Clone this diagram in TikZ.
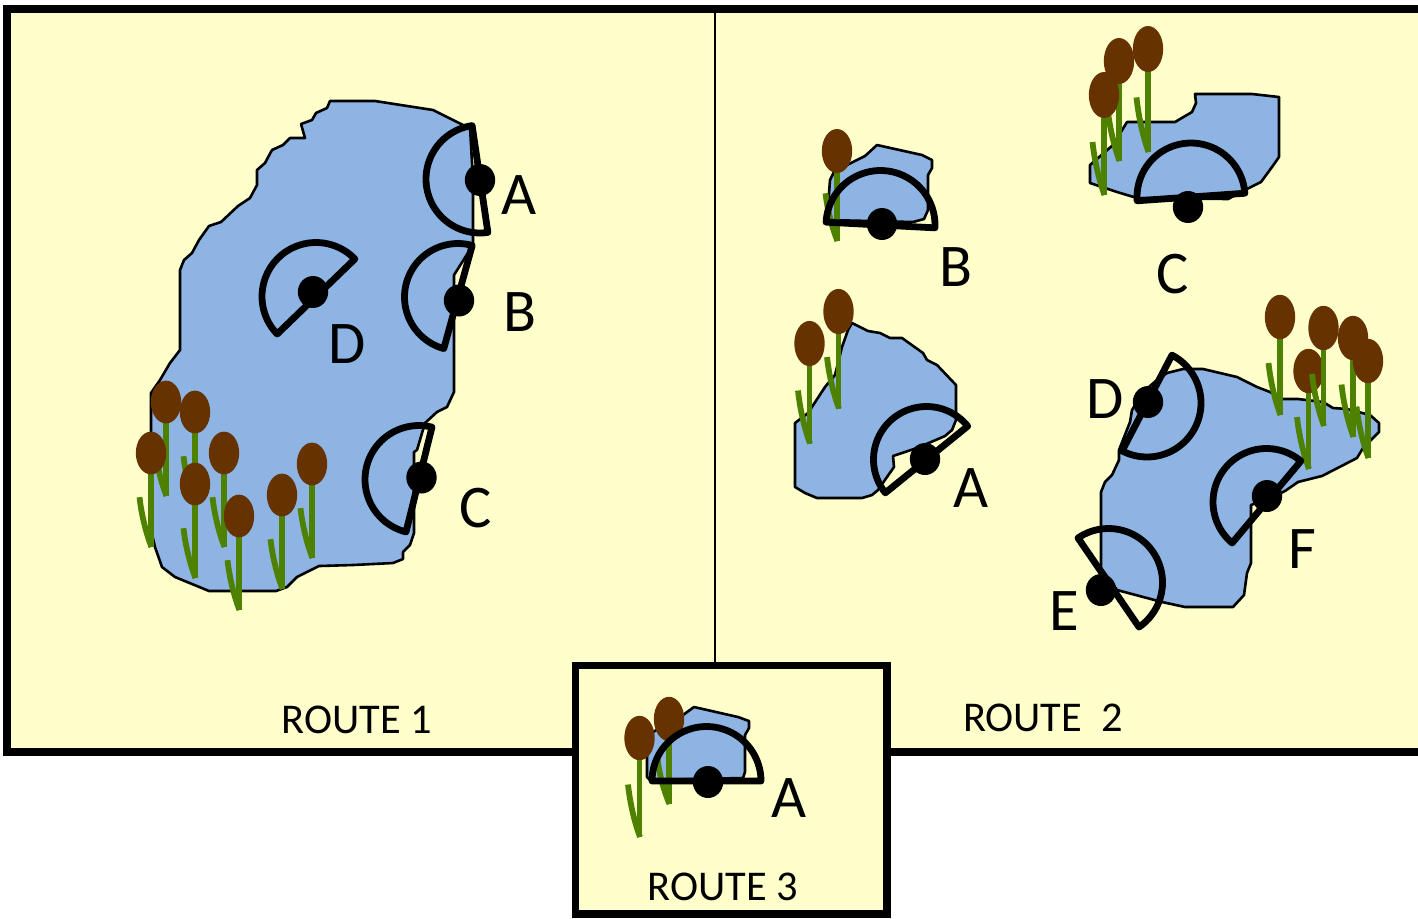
\documentclass[tikz,border=0pt]{standalone}
\usepackage{fontspec}
\setmainfont{Carlito}
\definecolor{paper}{HTML}{FFFFCC}
\definecolor{water}{HTML}{8EB4E3}
\definecolor{headbrown}{HTML}{663300}
\definecolor{reedgreen}{HTML}{4F8100}
\tikzset{
  framebox/.style={draw=black,line width=3.75pt,fill=paper,line join=miter},
  pondshape/.style={draw=black,line width=1.3pt,fill=water,line join=round},
  sectorline/.style={draw=black,line width=3.4pt,line join=round},
  reed/.style={draw=reedgreen,line width=2.9pt},
  biglabel/.style={anchor=base,font=\fontsize{30.3}{34}\selectfont,inner sep=0pt},
  routelabel/.style={anchor=base,font=\fontsize{21.2}{24}\selectfont,inner sep=0pt},
}
\newcommand{\mycattail}[4]{% x y yradius(pt) length(px)
  \begin{scope}[shift={(#1,#2)}]
    \draw[reed] (0,0) -- (0,#4);
    \draw[reed] (-11.5,{0.47*#4}) .. controls (-9.5,{0.66*#4}) and (-5,{0.85*#4}) .. (0.5,{#4});
    \fill[headbrown] (0,0) ellipse [x radius=7.6pt,y radius=#3pt];
  \end{scope}}
\newcommand{\mysector}[5]{% cx cy startangle radius dotcentre
  \pgfmathsetmacro{\angA}{#3}\pgfmathsetmacro{\angB}{#3+180}
  \draw[sectorline] plot[domain=\angA:\angB,samples=50,variable=\t] ({#1+#4*cos(\t)},{#2+#4*sin(\t)}) -- cycle;
  \fill[black] #5 ellipse [x radius=7.6pt,y radius=8pt];}
\begin{document}
\begin{tikzpicture}[x=0.5pt,y=-0.5pt]
\useasboundingbox (0,0) rectangle (1418,918);
\clip (0,0) rectangle (1418,918);
\fill[white] (0,0) rectangle (1418,918);
% frame
\path[framebox] (7,9) rectangle (1440,752);
\draw[black,line width=1pt] (715,9) -- (715,665);

% ROUTE 1
\path[pondshape] (330,101) -- (375,101) -- (433,110) -- (463,125) -- (470,127) -- (473,180) -- (473,245) -- (454,275) -- (454,392) -- (447,407) -- (437,412) -- (425,423) -- (417,450) -- (414,452) -- (414,533) -- (410,545) -- (403,552) -- (403,559) -- (393,563) -- (353,565) -- (319,566) -- (297,577) -- (287,587) -- (276,591) -- (209,591) -- (175,577) -- (162,567) -- (155,547) -- (151,530) -- (151,393) -- (160,380) -- (170,363) -- (180,350) -- (180,270) -- (184,260) -- (192,253) -- (199,240) -- (209,226) -- (221,222) -- (238,206) -- (250,198) -- (257,185) -- (257,170) -- (265,163) -- (272,150) -- (283,145) -- (290,138) -- (305,138) -- (301,124) -- (312,120) -- (316,113) -- (327,108) -- cycle;
\mycattail{166}{402}{10.7}{94}
\mycattail{195}{412}{10.7}{94}
\mycattail{224}{453}{10.7}{94}
\mycattail{151}{453}{10.7}{94}
\mycattail{195}{484}{10.7}{94}
\mycattail{239}{516}{10.7}{94}
\mycattail{282}{495}{10.7}{94}
\mycattail{312}{464}{10.7}{94}
\mysector{480}{179}{81.6}{54}{(480,180)}
\mysector{458}{297}{105.4}{53.5}{(459,300.5)}
\mysector{419}{479.5}{103.9}{54}{(421.5,477.5)}
\mysector{316}{296.5}{136}{54}{(313,292)}
\node[biglabel] (r1a) at (519,214) {A};
\node[biglabel] (r1b) at (520,331) {B};
\node[biglabel] (r1c) at (475.5,527) {C};
\node[biglabel] (r1d) at (347,363) {D};
\node[routelabel] (route1) at (357,733) {ROUTE 1};

% ROUTE 2 - pond B
\path[pondshape] (877,145) -- (922,155) -- (932,160) -- (932,168) -- (928,175) -- (928,210) -- (924,219) -- (913,222) -- (827,220) -- (830,180) -- (835,170) -- (847,165) -- (865,156) -- cycle;
\mycattail{837}{151}{11}{90}
\mysector{880.5}{225}{183}{54.5}{(882,224)}
\node[biglabel] (r2b) at (955.5,286) {B};

% pond C
\path[pondshape] (1195,94) -- (1252,94) -- (1279,97) -- (1279,157) -- (1272,167) -- (1261,182) -- (1245,190) -- (1228,199) -- (1137,198) -- (1117,192) -- (1090,183) -- (1090,165) -- (1113,145) -- (1127,122) -- (1175,122) -- (1192,112) -- (1196,103) -- cycle;
\mycattail{1119}{61}{11.5}{100}
\mycattail{1148}{49}{11.5}{103}
\mycattail{1104}{95}{11.5}{100}
\mysector{1191}{197}{176}{54}{(1188,207)}
\node[biglabel] (r2c) at (1172.5,293) {C};

% pond A
\path[pondshape] (852,323) -- (868,331) -- (880,333) -- (890,338) -- (902,338) -- (923,353) -- (927,360) -- (937,365) -- (956,385) -- (956,420) -- (952,430) -- (945,436) -- (917,448) -- (893,456) -- (894,467) -- (887,477) -- (878,490) -- (872,495) -- (862,498) -- (817,498) -- (805,493) -- (795,487) -- (795,423) -- (808,413) -- (825,387) -- (835,375) -- (842,347) -- (848,330) -- cycle;
\mycattail{809.5}{343.5}{11.3}{100}
\mycattail{838.5}{311.5}{11.3}{97}
\mysector{926.5}{459.5}{141}{53}{(925,459)}
\node[biglabel] (r2a) at (971.5,507) {A};

% pond D E F
\path[pondshape] (1167,373) -- (1183,369) -- (1203,369) -- (1237,377) -- (1257,387) -- (1270,392) -- (1283,399) -- (1298,399) -- (1323,402) -- (1333,408) -- (1347,409) -- (1370,415) -- (1379,423) -- (1379,432) -- (1363,448) -- (1357,458) -- (1322,476) -- (1298,482) -- (1285,491) -- (1273,497) -- (1251,505) -- (1251,563) -- (1247,573) -- (1244,595) -- (1233,607) -- (1185,607) -- (1162,602) -- (1117,590) -- (1101,568) -- (1101,492) -- (1105,482) -- (1112,475) -- (1119,460) -- (1119,450) -- (1130,422) -- (1132,410) -- (1143,392) -- (1157,380) -- cycle;
\mycattail{1280}{317}{11.1}{98}
\mycattail{1308.5}{371}{11.1}{98}
\mycattail{1323.5}{328}{11.1}{98}
\mycattail{1353}{338}{11.1}{99}
\mycattail{1368}{361}{11.1}{97}
\mysector{1147}{403}{297.5}{54}{(1148,402)}
\mysector{1108.5}{582.5}{235.6}{54}{(1101,590)}
\mysector{1266.5}{502}{130}{53.5}{(1267,496)}
\node[biglabel] (r2d) at (1105,418) {D};
\node[biglabel] (r2e) at (1064,630) {E};
\node[biglabel] (r2f) at (1302,568) {F};
\node[routelabel] (route2) at (1043,731) {ROUTE\ \ 2};

% ROUTE 3
\path[framebox] (575.5,665.5) rectangle (887,914);
\path[pondshape] (694,707) -- (738,717) -- (749,721) -- (749,728) -- (745,735) -- (745,772) -- (743,778) -- (650,780) -- (647,777) -- (647,757) -- (653,732) -- (683,715) -- cycle;
\mycattail{669}{719}{11.1}{85}
\mycattail{639.5}{738}{11.1}{99}
\mysector{706.5}{781}{180}{54.5}{(708,782)}
\node[biglabel] (r3a) at (789,817) {A};
\node[routelabel] (route3) at (723,900) {ROUTE 3};
\end{tikzpicture}
\end{document}
